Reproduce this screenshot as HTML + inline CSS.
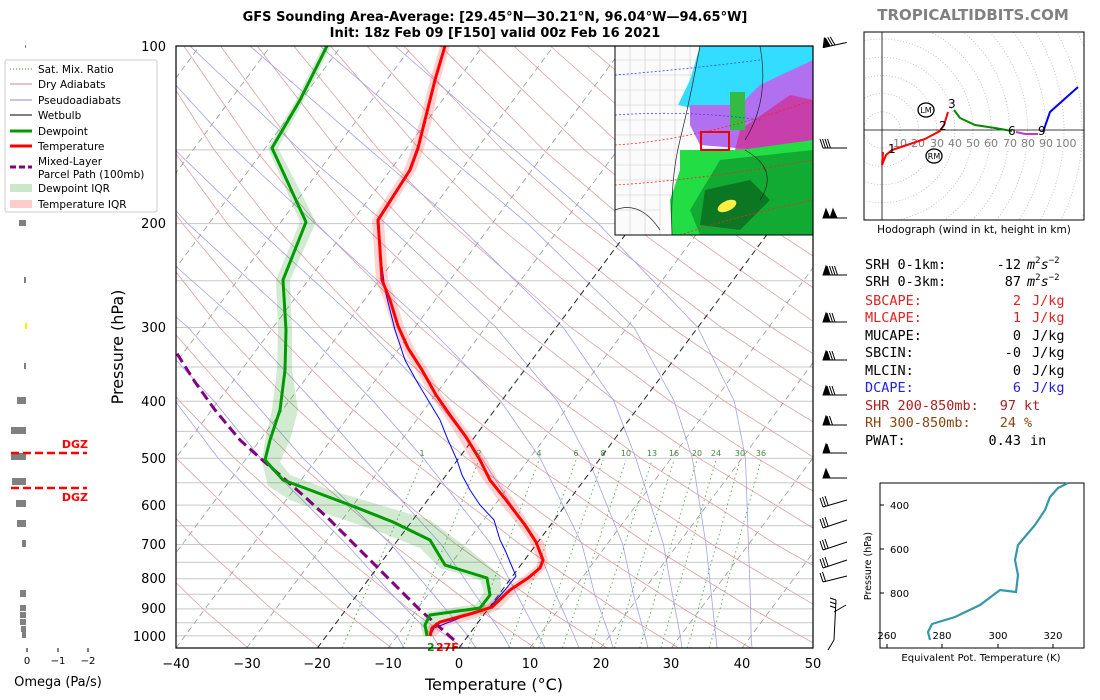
<!DOCTYPE html>
<html><head><meta charset="utf-8">
<style>
html,body{margin:0;padding:0;background:#fff;}
svg{display:block;font-family:"DejaVu Sans","Liberation Sans",sans-serif;}
</style></head>
<body>
<svg width="1100" height="700" viewBox="0 0 1100 700" xmlns="http://www.w3.org/2000/svg">
<defs>
<clipPath id="pc"><rect x="176" y="46" width="637" height="602"/></clipPath>
<clipPath id="hc"><rect x="864" y="32" width="220" height="188"/></clipPath>
<clipPath id="mc"><rect x="615" y="46" width="198" height="189"/></clipPath>
</defs>
<rect width="1100" height="700" fill="#fff"/>
<text x="495" y="21" font-size="13" font-weight="bold" text-anchor="middle">GFS Sounding Area-Average: [29.45°N—30.21°N, 96.04°W—94.65°W]</text>
<text x="495" y="37" font-size="13" font-weight="bold" text-anchor="middle">Init: 18z Feb 09 [F150] valid 00z Feb 16 2021</text>
<text x="973" y="20" font-size="15" font-weight="bold" fill="#808080" text-anchor="middle">TROPICALTIDBITS.COM</text>

<g clip-path="url(#pc)" fill="none">
<g stroke="#c8c8c8" stroke-width="1">
<path d="M176,149.9H813M176,223.6H813M176,280.8H813M176,327.5H813M176,367H813M176,401.2H813M176,431.4H813M176,458.3H813M176,482.8H813M176,505.1H813M176,525.7H813M176,544.5H813M176,562.3H813M176,578.7H813M176,594.3H813M176,608.9H813M176,622.8H813M176,635.9H813"/>
</g>
<g stroke="#d9a3a3" stroke-width="0.8">
<polyline points="248.1,648 203,609 136.8,544.5 60.4,458.3"/>
<polyline points="319.9,648 271.7,609 200.7,544.5 118.5,458.3 70.9,401.2"/>
<polyline points="391.6,648 340.4,609 264.6,544.5 176.5,458.3 125.4,401.2"/>
<polyline points="463.4,648 409,609 328.6,544.5 234.6,458.3 179.8,401.2 119.2,327.5"/>
<polyline points="535.2,648 477.7,609 392.5,544.5 292.6,458.3 234.3,401.2 169.4,327.5"/>
<polyline points="607,648 546.4,609 456.4,544.5 350.7,458.3 288.8,401.2 219.6,327.5 137.9,223.6"/>
<polyline points="678.7,648 615.1,609 520.3,544.5 408.8,458.3 343.3,401.2 269.8,327.5 182.5,223.6 131.8,149.9"/>
<polyline points="750.5,648 683.8,609 584.2,544.5 466.8,458.3 397.8,401.2 320,327.5 227.2,223.6 173,149.9 110.5,46"/>
<polyline points="822.3,648 752.4,609 648.2,544.5 524.9,458.3 452.2,401.2 370.1,327.5 271.9,223.6 214.2,149.9 147.2,46"/>
<polyline points="894,648 821.1,609 712.1,544.5 582.9,458.3 506.7,401.2 420.3,327.5 316.6,223.6 255.3,149.9 183.8,46"/>
<polyline points="965.8,648 889.8,609 776,544.5 641,458.3 561.2,401.2 470.5,327.5 361.3,223.6 296.5,149.9 220.5,46"/>
<polyline points="958.5,609 839.9,544.5 699.1,458.3 615.7,401.2 520.7,327.5 406,223.6 337.7,149.9 257.2,46"/>
<polyline points="903.8,544.5 757.1,458.3 670.2,401.2 570.9,327.5 450.7,223.6 378.8,149.9 293.8,46"/>
<polyline points="967.8,544.5 815.2,458.3 724.6,401.2 621,327.5 495.4,223.6 420,149.9 330.5,46"/>
<polyline points="873.2,458.3 779.1,401.2 671.2,327.5 540.1,223.6 461.2,149.9 367.1,46"/>
<polyline points="931.3,458.3 833.6,401.2 721.4,327.5 584.8,223.6 502.4,149.9 403.8,46"/>
<polyline points="989.4,458.3 888.1,401.2 771.6,327.5 629.4,223.6 543.5,149.9 440.5,46"/>
<polyline points="942.6,401.2 821.8,327.5 674.1,223.6 584.7,149.9 477.1,46"/>
<polyline points="997,401.2 871.9,327.5 718.8,223.6 625.9,149.9 513.8,46"/>
<polyline points="922.1,327.5 763.5,223.6 667,149.9 550.4,46"/>
<polyline points="972.3,327.5 808.2,223.6 708.2,149.9 587.1,46"/>
<polyline points="852.9,223.6 749.4,149.9 623.8,46"/>
<polyline points="897.6,223.6 790.5,149.9 660.4,46"/>
<polyline points="942.3,223.6 831.7,149.9 697.1,46"/>
<polyline points="872.9,149.9 733.7,46"/>
<polyline points="914.1,149.9 770.4,46"/>
<polyline points="955.2,149.9 807.1,46"/>
<polyline points="996,149.9 843.7,46"/>
</g>
<g stroke="#a3a3e3" stroke-width="0.8">
<polyline points="404,648 397.2,636 350.4,594.3 302.5,544.5 218.2,458.3 175.2,401.2 103.2,327.5"/>
<polyline points="440,648 432.6,636 391.8,594.3 346.8,544.5 260.7,458.3 214.1,401.2 145.7,327.5 39.1,223.6"/>
<polyline points="476,648 468,636 433.2,594.3 391,544.5 303.1,458.3 253,401.2 188.2,327.5 67.4,223.6"/>
<polyline points="510,648 503.4,636 475,594.3 441.3,544.5 363.3,458.3 313.2,401.2 244.8,327.5 127.6,223.6"/>
<polyline points="545,648 538.8,636 516.7,594.3 491.5,544.5 423.4,458.3 373.3,401.2 301.4,327.5 187.7,223.6 120,149.9"/>
<polyline points="579,648 574.2,636 555.7,594.3 536.8,544.5 481.8,458.3 437,401.2 365.1,327.5 251.4,223.6 175,149.9"/>
<polyline points="613,648 609.6,636 594.6,594.3 582.1,544.5 540.2,458.3 500.7,401.2 428.8,327.5 315.1,223.6 235,149.9 140,46"/>
<polyline points="648,648 645,636 633.5,594.3 622.8,544.5 588,458.3 557.4,401.2 496.1,327.5 385.9,223.6 300,149.9 190,46"/>
<polyline points="682,648 680.3,636 672.4,594.3 663.5,544.5 635.8,458.3 614,401.2 563.3,327.5 456.7,223.6 370,149.9 250,46"/>
<polyline points="717,648 715.7,636 711.3,594.3 706,544.5 692.4,458.3 674.2,401.2 634.1,327.5 527.5,223.6 440,149.9 320,46"/>
<polyline points="752,648 751.1,636 750.3,594.3 748.4,544.5 745.5,458.3 734.3,401.2 697.8,327.5 598.2,223.6 515,149.9 395,46"/>
</g>
<g stroke="#55aa55" stroke-width="0.9" stroke-dasharray="1.5,3">
<line x1="341.9" y1="648" x2="422.8" y2="460"/>
<line x1="402.7" y1="648" x2="478.9" y2="460"/>
<line x1="468.1" y1="648" x2="539" y2="460"/>
<line x1="508.7" y1="648" x2="576" y2="460"/>
<line x1="538.6" y1="648" x2="603" y2="460"/>
<line x1="562.4" y1="648" x2="626" y2="460"/>
<line x1="591.1" y1="648" x2="652" y2="460"/>
<line x1="614.3" y1="648" x2="674" y2="460"/>
<line x1="639.8" y1="648" x2="697" y2="460"/>
<line x1="660.9" y1="648" x2="716" y2="460"/>
<line x1="687.4" y1="648" x2="740" y2="460"/>
<line x1="709.3" y1="648" x2="761" y2="460"/>
</g>
<g stroke="#999" stroke-width="0.8" stroke-dasharray="6,4">
<line x1="-248.8" y1="648" x2="199.7" y2="46"/>
<line x1="-178" y1="648" x2="270.5" y2="46"/>
<line x1="-107.2" y1="648" x2="341.3" y2="46"/>
<line x1="-36.5" y1="648" x2="412" y2="46"/>
<line x1="34.3" y1="648" x2="482.8" y2="46"/>
<line x1="105.1" y1="648" x2="553.6" y2="46"/>
<line x1="175.9" y1="648" x2="624.4" y2="46"/>
<line x1="246.7" y1="648" x2="695.2" y2="46"/>
<line x1="388.2" y1="648" x2="836.7" y2="46"/>
<line x1="529.8" y1="648" x2="978.3" y2="46"/>
<line x1="600.6" y1="648" x2="1049" y2="46"/>
<line x1="671.3" y1="648" x2="1120" y2="46"/>
<line x1="742.1" y1="648" x2="1190" y2="46"/>
</g>
<g stroke="#222" stroke-width="1" stroke-dasharray="6,4">
<line x1="317.4" y1="648" x2="765.9" y2="46"/>
<line x1="459" y1="648" x2="907.5" y2="46"/>
</g>
</g>

<g clip-path="url(#pc)">
<polygon fill="#2ca02c" fill-opacity="0.22" points="423,636 420,622 428,612 476,604 484,592 480,580 440,568 420,548 380,532 330,515 290,500 268,486 262,462 265,440 272,410 277,370 278,330 276,280 300,222 268,148 296,100 323,46 331,46 304,100 278,148 316,222 290,280 292,330 292,370 298,410 290,440 280,462 290,475 330,490 380,505 430,520 470,550 500,575 502,596 490,612 440,620 432,636"/>
<polygon fill="#ff0000" fill-opacity="0.18" points="426,636 428,626 460,614 488,604 506,588 524,576 536,566 538,560 530,542 518,525 498,500 482,478 470,458 458,437 444,415 430,395 416,370 402,348 392,326 384,300 376,280 372,220 388,195 404,170 412,148 420,120 430,80 440,46 450,46 440,80 432,120 424,148 416,170 400,195 384,220 388,280 396,300 404,326 414,348 428,370 442,395 456,415 472,437 486,458 498,480 514,500 530,525 544,542 548,560 546,568 534,580 516,592 498,610 476,618 446,626 436,636"/>
<polyline fill="none" stroke="#0000ff" stroke-width="1" points="430,636 434,628 470,614 490,607 505,590 516,576 510,562 505,550 500,540 494,520 480,505 470,490 462,475 457,460 448,440 440,420 428,400 416,380 405,360 395,330 385,290 380,250 377,220 393,195 409,170 417,148"/>
<polyline fill="none" stroke="#800080" stroke-width="3" stroke-dasharray="10,5" points="454,640 436,624 420,610 400,590 380,570 355,545 330,520 305,497 280,475 260,458 240,440 215,410 195,382 176,352"/>
<polyline fill="none" stroke="#ff0000" stroke-width="3" points="430,636 432,628 440,622 470,614 492,607 510,590 528,578 540,568 543,560 536,542 525,525 506,500 490,480 480,460 466,437 450,415 436,395 422,370 408,348 398,326 390,300 382,280 378,220 394,195 410,170 418,148 425,120 435,80 445,46"/>
<polyline fill="none" stroke="#009900" stroke-width="3" points="427,636 425,625 430,615 480,608 490,595 487,578 445,565 430,540 393,522 350,505 310,490 283,480 265,460 270,440 280,410 285,370 286,330 283,280 306,222 272,148 300,100 327,46"/>
</g>
<text x="427" y="651" font-size="11" font-weight="bold" fill="#009900">2</text>
<text x="436" y="651" font-size="11" font-weight="bold" fill="#ff0000">27F</text>

<g clip-path="url(#mc)">
<rect x="615" y="46" width="198" height="189" fill="#fbfbfb"/>
<path d="M615,60H700M615,75H700M615,90H690M615,105H690M615,120H690M615,135H690M615,150H690M615,165H680M615,180H675M615,195H672M615,210H660M630,46V235M645,46V235M660,46V235M675,46V170M690,46V110" stroke="#ccc" stroke-width="0.6" fill="none"/>
<polygon fill="#33ddff" points="700,46 813,46 813,90 780,100 740,110 700,110 678,105 690,80"/>
<polygon fill="#b070f0" points="690,105 740,105 760,85 813,60 813,140 760,150 700,145 690,125"/>
<polygon fill="#cc3399" fill-opacity="0.8" points="740,130 790,95 813,100 813,140 760,150 735,150"/>
<polygon fill="#22dd44" points="680,150 740,150 813,140 813,235 672,235 670,200 680,170"/>
<polygon fill="#11aa33" points="720,160 813,150 813,235 700,235 690,210"/>
<polygon fill="#0b7722" points="705,190 750,180 770,200 740,230 700,225"/>
<polygon fill="#33bb44" points="730,92 745,92 745,130 730,130"/>
<ellipse cx="727" cy="206" rx="10" ry="5" fill="#ffee44" transform="rotate(-25 727 206)"/>
<path d="M615,75 Q680,70 760,60 M615,115 Q690,110 760,120" stroke="#3344ff" stroke-dasharray="2,2" fill="none" stroke-width="0.8"/>
<path d="M615,145 Q700,140 813,100 M615,185 Q700,180 813,160 M680,235 Q740,215 813,200" stroke="#ff2222" stroke-dasharray="2,2" fill="none" stroke-width="0.8"/>
<path d="M700,46 Q690,100 680,140 Q670,180 672,235 M760,46 Q770,100 745,140 M745,150 Q780,170 760,200 M615,210 Q640,200 660,230" stroke="#222" fill="none" stroke-width="0.7"/>
<rect x="701" y="132" width="28" height="18" fill="none" stroke="#e00" stroke-width="2"/>
</g>
<rect x="615" y="46" width="198" height="189" fill="none" stroke="#000" stroke-width="1"/>

<rect x="176" y="46" width="637" height="602" fill="none" stroke="#000" stroke-width="1.2"/>

<g font-size="13" text-anchor="end">
<text x="166" y="51">100</text><text x="166" y="228">200</text><text x="166" y="332">300</text><text x="166" y="406">400</text><text x="166" y="463">500</text><text x="166" y="510">600</text><text x="166" y="549">700</text><text x="166" y="583">800</text><text x="166" y="613">900</text><text x="166" y="641">1000</text>
</g>
<text x="123" y="347" font-size="16" text-anchor="middle" transform="rotate(-90 123 347)">Pressure (hPa)</text>
<g font-size="13" text-anchor="middle">
<text x="176" y="668">−40</text><text x="247" y="668">−30</text><text x="317" y="668">−20</text><text x="388" y="668">−10</text><text x="459" y="668">0</text><text x="530" y="668">10</text><text x="601" y="668">20</text><text x="671" y="668">30</text><text x="742" y="668">40</text><text x="813" y="668">50</text>
</g>
<text x="494" y="690" font-size="16" text-anchor="middle">Temperature (°C)</text>
<g font-size="8" fill="#448844" text-anchor="middle">
<text x="422" y="456">1</text><text x="479" y="456">2</text><text x="539" y="456">4</text><text x="576" y="456">6</text><text x="603" y="456">8</text><text x="626" y="456">10</text><text x="652" y="456">13</text><text x="674" y="456">16</text><text x="697" y="456">20</text><text x="716" y="456">24</text><text x="740" y="456">30</text><text x="761" y="456">36</text>
</g>

<rect x="5" y="60" width="152" height="152" fill="#fff" stroke="#ccc" rx="2"/>
<g font-size="10.5">
<line x1="10" y1="69" x2="32" y2="69" stroke="#448844" stroke-dasharray="1,2"/><text x="38" y="73">Sat. Mix. Ratio</text>
<line x1="10" y1="84" x2="32" y2="84" stroke="#cc8888"/><text x="38" y="88">Dry Adiabats</text>
<line x1="10" y1="100" x2="32" y2="100" stroke="#8888dd"/><text x="38" y="104">Pseudoadiabats</text>
<line x1="10" y1="115" x2="32" y2="115" stroke="#000"/><text x="38" y="119">Wetbulb</text>
<line x1="10" y1="131" x2="32" y2="131" stroke="#009900" stroke-width="3"/><text x="38" y="135">Dewpoint</text>
<line x1="10" y1="146" x2="32" y2="146" stroke="#ff0000" stroke-width="3"/><text x="38" y="150">Temperature</text>
<line x1="10" y1="167" x2="32" y2="167" stroke="#800080" stroke-width="3" stroke-dasharray="6,3"/><text x="38" y="165">Mixed-Layer</text><text x="38" y="178">Parcel Path (100mb)</text>
<rect x="10" y="184" width="22" height="8" fill="#2ca02c" fill-opacity="0.25"/><text x="38" y="192">Dewpoint IQR</text>
<rect x="10" y="200" width="22" height="8" fill="#ff0000" fill-opacity="0.2"/><text x="38" y="208">Temperature IQR</text>
</g>

<g fill="#808080">
<rect x="25" y="45" width="1" height="3"/>
<rect x="19" y="220" width="7" height="6"/>
<rect x="24" y="277" width="2" height="6"/>
<rect x="24" y="363" width="2" height="6"/>
<rect x="17" y="397" width="9" height="7"/>
<rect x="11" y="427" width="15" height="7"/>
<rect x="11" y="453" width="15" height="7"/>
<rect x="12" y="478" width="14" height="7"/>
<rect x="16" y="500" width="10" height="7"/>
<rect x="17" y="520" width="9" height="7"/>
<rect x="22" y="540" width="4" height="7"/>
<rect x="20" y="590" width="6" height="7"/>
<rect x="20" y="605" width="6" height="6"/>
<rect x="20" y="612" width="6" height="6"/>
<rect x="20" y="619" width="6" height="6"/>
<rect x="21" y="626" width="5" height="6"/>
<rect x="22" y="632" width="4" height="6"/>
</g>
<rect x="25" y="323" width="2" height="6" fill="#ffee00"/>
<line x1="11" y1="453" x2="87" y2="453" stroke="#ff0000" stroke-width="2.5" stroke-dasharray="8,4"/>
<line x1="11" y1="488" x2="87" y2="488" stroke="#ff0000" stroke-width="2.5" stroke-dasharray="8,4"/>
<text x="88" y="448" font-size="11" font-weight="bold" fill="#ff0000" text-anchor="end">DGZ</text>
<text x="88" y="501" font-size="11" font-weight="bold" fill="#ff0000" text-anchor="end">DGZ</text>
<g stroke="#000"><line x1="27" y1="648" x2="27" y2="652"/><line x1="58" y1="648" x2="58" y2="652"/><line x1="88" y1="648" x2="88" y2="652"/></g>
<g font-size="10" text-anchor="middle"><text x="27" y="664">0</text><text x="58" y="664">−1</text><text x="88" y="664">−2</text></g>
<text x="58" y="686" font-size="13" text-anchor="middle">Omega (Pa/s)</text>

<g stroke="#000" fill="#000" stroke-width="1">
<path d="M823,45H847M830,45L827,36M832.5,45L829.5,36M835,45L832,36" fill="none" transform="rotate(-12 835 45)"/>
<polygon points="823,45 826,36 830,45" transform="rotate(-12 835 45)"/>
<path d="M823,148H847M823,148L820,139M825.5,148L822.5,139M828,148L825,139M830.5,148L827.5,139" fill="none"/>
<path d="M823,218H847" fill="none"/><polygon points="823,218 826,209 830,218"/><polygon points="830,218 833,209 837,218"/>
<path d="M823,275H847M830,275L827,266M832.5,275L829.5,266M835,275L832,266M837.5,275L834.5,266" fill="none"/><polygon points="823,275 826,266 830,275"/>
<path d="M823,322H847M830,322L827,313M832.5,322L829.5,313M835,322L832,313" fill="none"/><polygon points="823,322 826,313 830,322"/>
<path d="M823,360H847M830,360L827,351M832.5,360L829.5,351M835,360L832,351" fill="none"/><polygon points="823,360 826,351 830,360"/>
<path d="M823,395H847M830,395L827,386M832.5,395L829.5,386M835,395L832,386" fill="none"/><polygon points="823,395 826,386 830,395"/>
<path d="M823,425H847M830,425L827,416M832.5,425L829.5,416" fill="none"/><polygon points="823,425 826,416 830,425"/>
<path d="M823,453H847M830,453L827,444" fill="none"/><polygon points="823,453 826,444 830,453"/>
<path d="M823,478H847" fill="none"/><polygon points="823,478 826,469 830,478"/>
<path d="M823,507L847,500M823,507L820,498M825.5,506L822.5,497M828,505L825,496" fill="none"/>
<path d="M823,528L847,520M823,528L820,519M825.5,527L822.5,518M828,526L825,517" fill="none"/>
<path d="M823,550L847,542M823,550L820,541M825.5,549L822.5,540M828,548L825,539" fill="none"/>
<path d="M823,568L847,560M823,568L820,559M825.5,567L822.5,558M828,566L825,557" fill="none"/>
<path d="M823,582L847,576M823,582L820,573M825.5,581L822.5,572" fill="none"/>
<path d="M836,600L834,640M836,600L830,598M836,604L830,602M836,608L830,606M834,640L828,650M834,612L846,605" fill="none"/>
</g>

<g clip-path="url(#hc)">
<g fill="none" stroke="#bbb" stroke-dasharray="1,2" stroke-width="0.8">
<circle cx="882" cy="130" r="18.2"/><circle cx="882" cy="130" r="36.4"/><circle cx="882" cy="130" r="54.6"/><circle cx="882" cy="130" r="72.8"/><circle cx="882" cy="130" r="91"/><circle cx="882" cy="130" r="109.2"/><circle cx="882" cy="130" r="127.4"/><circle cx="882" cy="130" r="145.6"/><circle cx="882" cy="130" r="163.8"/><circle cx="882" cy="130" r="182"/><circle cx="882" cy="130" r="200.2"/><circle cx="882" cy="130" r="218.4"/><circle cx="882" cy="130" r="236.6"/><circle cx="882" cy="130" r="254.8"/>
</g>
<line x1="864" y1="130" x2="1084" y2="130" stroke="#000" stroke-width="0.8"/>
<line x1="882" y1="32" x2="882" y2="220" stroke="#000" stroke-width="0.8"/>
<g font-size="11" fill="#808080" text-anchor="middle">
<text x="900" y="147">10</text><text x="918" y="147">20</text><text x="937" y="147">30</text><text x="955" y="147">40</text><text x="973" y="147">50</text><text x="991" y="147">60</text><text x="1010" y="147">70</text><text x="1028" y="147">80</text><text x="1046" y="147">90</text><text x="1066" y="147">100</text>
</g>
<polyline fill="none" stroke="#ff0000" stroke-width="2" points="883,152 882,165 886,155 892,150 910,144 925,139 940,131 944,125 948,112"/>
<polyline fill="none" stroke="#008800" stroke-width="2" points="954,110 960,118 975,125 995,128 1012,131"/>
<polyline fill="none" stroke="#cc33cc" stroke-width="2" points="1016,132 1025,134 1038,134"/>
<polyline fill="none" stroke="#0000ff" stroke-width="2" points="1043,132 1050,112 1078,87"/>
<g font-size="12"><text x="888" y="153">1</text><text x="939" y="130">2</text><text x="948" y="108">3</text><text x="1008" y="135">6</text><text x="1038" y="135">9</text></g>
<ellipse cx="926" cy="110" rx="8" ry="7" fill="none" stroke="#000" stroke-width="1.3"/><text x="926" y="113" font-size="8" text-anchor="middle">LM</text>
<ellipse cx="934" cy="156" rx="8" ry="7" fill="none" stroke="#000" stroke-width="1.3"/><text x="934" y="159" font-size="8" text-anchor="middle">RM</text>
</g>
<rect x="864" y="32" width="220" height="188" fill="none" stroke="#000" stroke-width="1"/>
<text x="974" y="233" font-size="10.5" text-anchor="middle">Hodograph (wind in kt, height in km)</text>

<g font-family="'DejaVu Sans Mono','Liberation Mono',monospace" font-size="13.5">
<text x="865" y="269">SRH 0-1km:</text><text x="1021" y="269" text-anchor="end">-12</text><text x="1027" y="269"><tspan font-style="italic">m</tspan><tspan font-size="9" dy="-6">2</tspan><tspan font-style="italic" dy="6">s</tspan><tspan font-size="9" dy="-6">−2</tspan></text>
<text x="865" y="286">SRH 0-3km:</text><text x="1021" y="286" text-anchor="end">87</text><text x="1027" y="286"><tspan font-style="italic">m</tspan><tspan font-size="9" dy="-6">2</tspan><tspan font-style="italic" dy="6">s</tspan><tspan font-size="9" dy="-6">−2</tspan></text>
<g fill="#dd2222"><text x="865" y="305">SBCAPE:</text><text x="1021" y="305" text-anchor="end">2</text><text x="1032" y="305">J/kg</text>
<text x="865" y="322">MLCAPE:</text><text x="1021" y="322" text-anchor="end">1</text><text x="1032" y="322">J/kg</text></g>
<text x="865" y="340">MUCAPE:</text><text x="1021" y="340" text-anchor="end">0</text><text x="1032" y="340">J/kg</text>
<text x="865" y="357">SBCIN:</text><text x="1021" y="357" text-anchor="end">-0</text><text x="1032" y="357">J/kg</text>
<text x="865" y="375">MLCIN:</text><text x="1021" y="375" text-anchor="end">0</text><text x="1032" y="375">J/kg</text>
<g fill="#2222dd"><text x="865" y="392">DCAPE:</text><text x="1021" y="392" text-anchor="end">6</text><text x="1032" y="392">J/kg</text></g>
<g fill="#aa2222"><text x="865" y="410">SHR 200-850mb:</text><text x="1016" y="410" text-anchor="end">97</text><text x="1024" y="410">kt</text></g>
<g fill="#8b4513"><text x="865" y="427">RH 300-850mb:</text><text x="1016" y="427" text-anchor="end">24</text><text x="1024" y="427">%</text></g>
<text x="865" y="445">PWAT:</text><text x="1021" y="445" text-anchor="end">0.43</text><text x="1030" y="445">in</text>
</g>

<rect x="880" y="483" width="204" height="165" fill="none" stroke="#000" stroke-width="1"/>
<polyline fill="none" stroke="#3399aa" stroke-width="2.2" points="930,640 928,632 932,624 955,617 980,605 1000,590 1016,592 1018,575 1015,560 1018,545 1035,525 1045,510 1050,497 1058,488 1068,483"/>
<g stroke="#000"><line x1="880" y1="505" x2="884" y2="505"/><line x1="880" y1="549" x2="884" y2="549"/><line x1="880" y1="593" x2="884" y2="593"/>
<line x1="887" y1="648" x2="887" y2="644"/><line x1="942" y1="648" x2="942" y2="644"/><line x1="998" y1="648" x2="998" y2="644"/><line x1="1053" y1="648" x2="1053" y2="644"/></g>
<g font-size="10"><text x="890" y="509">400</text><text x="890" y="553">600</text><text x="890" y="597">800</text></g>
<g font-size="10" text-anchor="middle"><text x="887" y="639">260</text><text x="942" y="639">280</text><text x="998" y="639">300</text><text x="1053" y="639">320</text></g>
<text x="871" y="566" font-size="9.5" text-anchor="middle" transform="rotate(-90 871 566)">Pressure (hPa)</text>
<text x="981" y="661" font-size="10" text-anchor="middle">Equivalent Pot. Temperature (K)</text>
</svg>
</body></html>
